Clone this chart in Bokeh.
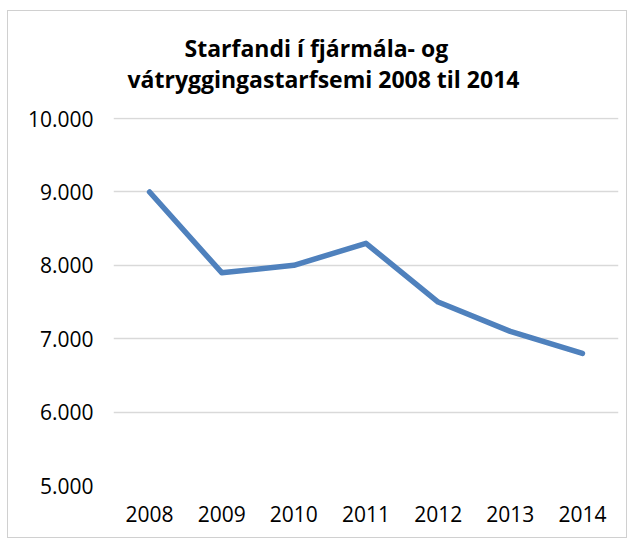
from bokeh.plotting import figure
from bokeh.models import FixedTicker, Range1d, FactorRange, Title
from bokeh.embed import file_html
from bokeh.resources import INLINE

years = ["2008", "2009", "2010", "2011", "2012", "2013", "2014"]
employed = [9000, 7900, 8000, 8300, 7500, 7100, 6800]
y_ticks = [5000, 6000, 7000, 8000, 9000, 10000]
y_tick_labels = ["5.000", "6.000", "7.000", "8.000", "9.000", "10.000"]
title_line1 = "Starfandi í fjármála- og"
title_line2 = "vátryggingastarfsemi 2008 til 2014"

p = figure(width=620, height=528, output_backend="svg", toolbar_location=None,
           title=None,
           x_range=FactorRange(factors=years, range_padding=0),
           y_range=Range1d(5000, 10015),
           min_border_left=105, min_border_right=10, min_border_top=106, min_border_bottom=54)

p.line(years, employed, line_color="#4F81BD", line_width=5.5, line_cap="round", line_join="round")

t2 = Title(text=title_line2, align="left", offset=14, standoff=46,
           text_font="Open Sans", text_font_size="23px", text_font_style="bold",
           text_color="#000000")
t1 = Title(text=title_line1, align="left", offset=71, standoff=-53,
           text_font="Open Sans", text_font_size="23px", text_font_style="bold",
           text_color="#000000")
p.add_layout(t2, "above")
p.add_layout(t1, "above")

p.outline_line_color = None
p.background_fill_color = "white"
p.border_fill_color = "white"
p.styles = {"border": "1px solid #d0d0d0", "box-sizing": "border-box",
            "margin-left": "7px", "margin-top": "10px"}

p.yaxis.ticker = FixedTicker(ticks=y_ticks)
p.yaxis.major_label_overrides = {t: l for t, l in zip(y_ticks, y_tick_labels)}
for ax in (p.xaxis, p.yaxis):
    ax.axis_line_color = None
    ax.major_tick_line_color = None
    ax.minor_tick_line_color = None
    ax.major_label_text_font = "Open Sans"
    ax.major_label_text_font_size = "21px"
    ax.major_label_text_color = "#000000"
p.yaxis.major_label_standoff = 14
p.xaxis.major_label_standoff = 14

p.xgrid.grid_line_color = None
p.ygrid.grid_line_color = "#d9d9d9"
p.ygrid.grid_line_width = 1.5

open("out.html", "w").write(file_html(p, INLINE))
